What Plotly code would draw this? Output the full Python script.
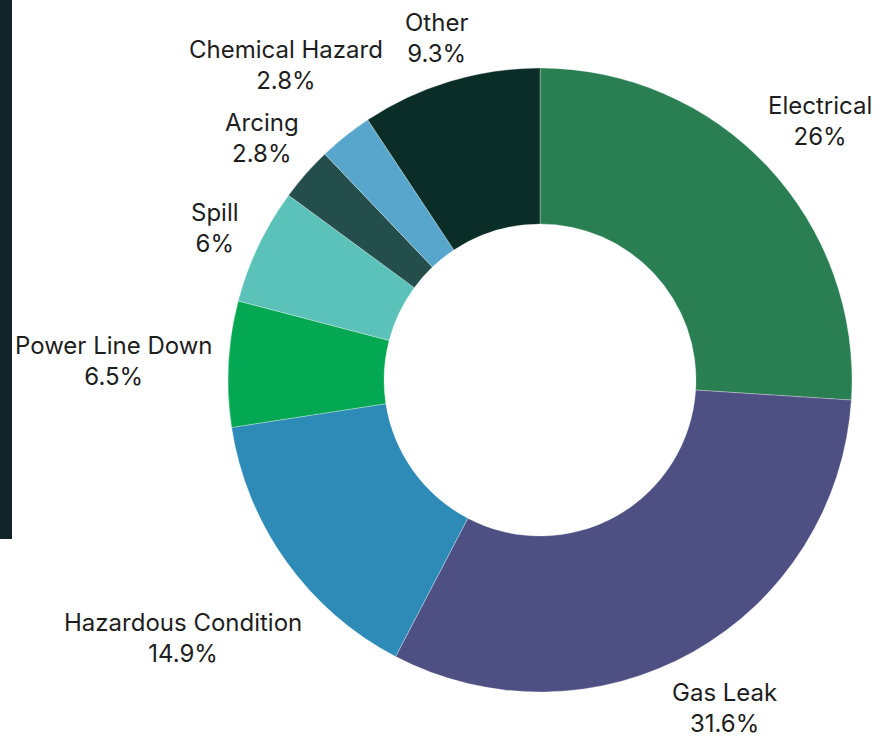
import math
import plotly.graph_objects as go

labels = ["Electrical", "Gas Leak", "Hazardous Condition", "Power Line Down",
          "Spill", "Arcing", "Chemical Hazard", "Other"]
values = [26, 31.6, 14.9, 6.5, 6, 2.8, 2.8, 9.3]
colors = ["#2a7f52", "#4e4f82", "#2e8bb8", "#04a852",
          "#5bc2b9", "#234e4c", "#58a6cc", "#0b2d28"]

W, H = 889, 738
cx, cy, r = 540, 380, 312          # pie centre / radius in pixels
FONT = dict(family="Inter", size=24, color="#1e1e1e")
LABEL_GAP = 14                     # gap between ring and label box
LINE_H = 54                        # visual height of a two-line label
BOX_HALF = 33                      # half height of a rendered two-line annotation


def text_width(s):
    """Rough pixel width of a string in Inter 24px."""
    w = 0
    for ch in s:
        if ch in "ilIjtfr., :;'!|":
            w += 7
        elif ch in "mwMW%":
            w += 20
        else:
            w += 14.5
    return w


fig = go.Figure(go.Pie(
    labels=labels,
    values=values,
    sort=False,
    direction="clockwise",
    rotation=0,
    hole=0.5,
    marker=dict(colors=colors, line=dict(color="rgba(255,255,255,0.5)", width=0.6)),
    textinfo="none",
    hoverinfo="label+percent",
    domain=dict(x=[(cx - r) / W, (cx + r) / W],
                y=[(H - cy - r) / H, (H - cy + r) / H]),
    showlegend=False,
))

# outside labels, positioned along each slice's mid-angle (computed from the data)
total = sum(values)
cum = 0.0
for lab, val in zip(labels, values):
    mid = (cum + val / 2) / total * 2 * math.pi
    cum += val
    ux, uy = math.sin(mid), -math.cos(mid)      # screen direction (y down)
    pct = f"{val:g}%"
    w = max(text_width(lab), text_width(pct))
    dist = r + LABEL_GAP + abs(ux) * w / 2 + abs(uy) * LINE_H / 2
    px, py = cx + dist * ux, cy + dist * uy
    shift = 3
    # keep the whole annotation box inside the picture
    if py + shift + BOX_HALF > H:
        shift = max(0, H - BOX_HALF - py)
    fig.add_annotation(
        x=px / W, y=1 - py / H, xref="paper", yref="paper",
        text=f"{lab}<br>{pct}", showarrow=False,
        xanchor="center", yanchor="middle", align="center",
        yshift=-shift,
        font=FONT,
    )

fig.add_shape(type="rect", xref="paper", yref="paper",
              x0=0, x1=12 / W, y0=1 - 539 / H, y1=1,
              fillcolor="#12242a", line=dict(width=0), layer="below")

fig.update_layout(
    width=W, height=H,
    margin=dict(l=0, r=0, t=0, b=0),
    paper_bgcolor="white",
    plot_bgcolor="white",
    font=FONT,
)

fig.write_html("out.html", config={"displayModeBar": False},
               post_script="document.body.style.margin='0';document.body.style.overflow='hidden';")
